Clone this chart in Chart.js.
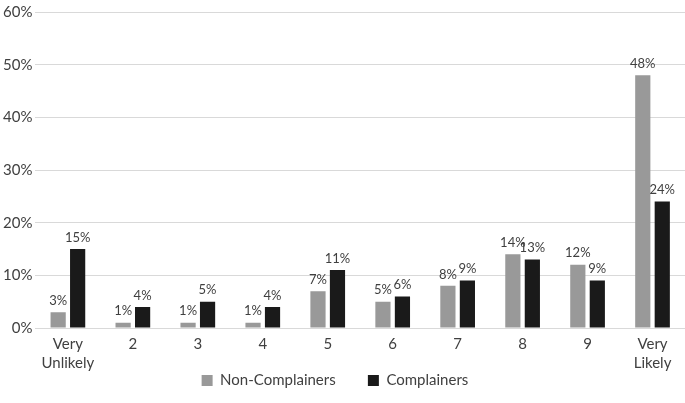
<!DOCTYPE html>
<html>
<head>
<meta charset="utf-8">
<script src="https://cdn.jsdelivr.net/npm/chart.js@4"></script>
<style>
  html, body { margin: 0; padding: 0; background: #fff; }
  #wrap { width: 685px; height: 403px; }
</style>
</head>
<body>
<div id="wrap"><canvas id="chart"></canvas></div>
<script>
// values
const categories = [["Very", "Unlikely"], "2", "3", "4", "5", "6", "7", "8", "9", ["Very", "Likely"]];
const nonComplainers = [3, 1, 1, 1, 7, 5, 8, 14, 12, 48];
const complainers = [15, 4, 5, 4, 11, 6, 9, 13, 9, 24];

const FONT = "Lato, 'Open Sans', sans-serif";

// draws the % value above each bar
const valueLabels = {
  id: "valueLabels",
  afterDatasetsDraw(chart) {
    const ctx = chart.ctx;
    ctx.save();
    ctx.font = "13px " + FONT;
    ctx.fillStyle = "#404040";
    ctx.textAlign = "center";
    ctx.textBaseline = "bottom";
    chart.data.datasets.forEach((ds, i) => {
      chart.getDatasetMeta(i).data.forEach((bar, j) => {
        ctx.fillText(ds.data[j] + "%", bar.x, bar.y - 5);
      });
    });
    ctx.restore();
  }
};

new Chart(document.getElementById("chart"), {
  type: "bar",
  data: {
    labels: categories,
    datasets: [
      { label: "Non-Complainers", data: nonComplainers, backgroundColor: "#999999" },
      { label: "Complainers", data: complainers, backgroundColor: "#1a1a1a" }
    ]
  },
  options: {
    responsive: true,
    maintainAspectRatio: false,
    animation: false,
    layout: { padding: { top: 1, right: 0, left: 0, bottom: 5 } },
    datasets: { bar: { categoryPercentage: 0.6, barPercentage: 0.78 } },
    plugins: {
      legend: {
        position: "bottom",
        labels: {
          font: { size: 15, family: FONT }, color: "#404040", boxWidth: 11, boxHeight: 11, padding: 2,
          // wider gap between the entries, group sits a bit left of centre
          generateLabels(chart) {
            const items = Chart.defaults.plugins.legend.labels.generateLabels(chart);
            items[0].text += "\u2003\u2003  ";
            items[1].text += "\u2003 ";
            return items;
          }
        }
      },
      tooltip: { enabled: false }
    },
    scales: {
      x: {
        grid: { display: false, drawTicks: false },
        border: { color: "#d9d9d9" },
        ticks: { font: { size: 15, family: FONT, lineHeight: 1.3 }, color: "#404040", maxRotation: 0, padding: 6 },
        // labels may run down into the legend's band (they don't overlap horizontally)
        afterFit(scale) { scale.height -= 8; }
      },
      y: {
        min: 0,
        max: 60,
        grid: { color: "#d9d9d9", drawTicks: false },
        border: { display: false },
        ticks: { stepSize: 10, padding: 3, font: { size: 15, family: FONT }, color: "#404040", callback: v => v + "%" }
      }
    }
  },
  plugins: [valueLabels]
});
</script>
</body>
</html>
